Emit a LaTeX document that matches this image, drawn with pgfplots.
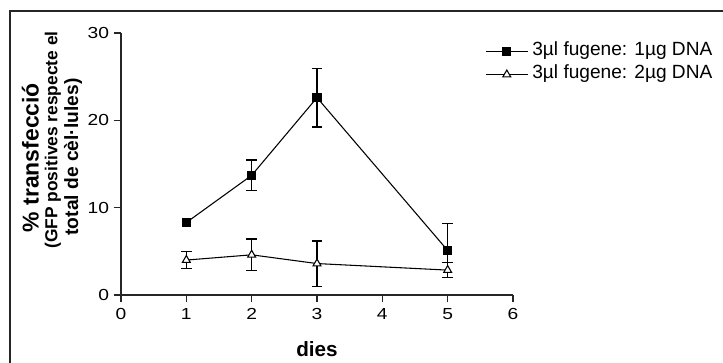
\documentclass[border=0pt]{standalone}
\usepackage{fontspec}
\setmainfont{Liberation Sans}
\newfontfamily\tickfont{Liberation Sans}[FakeStretch=1.2]
\usepackage{graphicx}
\usepackage{pgfplots}
\pgfplotsset{compat=1.18}
\begin{document}
\begin{tikzpicture}
\begin{axis}[
  scale only axis,
  width=294pt, height=196.5pt,
  xmin=0, xmax=6, ymin=0, ymax=30,
  xtick={0,1,2,3,4,5,6}, ytick={0,10,20,30},
  axis x line*=bottom, axis y line*=left,
  axis line style={-, line width=1pt, black!85},
  tick style={line width=1pt, black!85},
  tick align=outside, major tick length=5.5pt,
  xtick pos=bottom, ytick pos=left,
  /pgf/number format/assume math mode=true,
  ticklabel style={font=\tickfont\fontsize{12}{14}\selectfont},
  xticklabel style={yshift=-1pt},
  clip=false,
  legend cell align=left,
  legend style={draw=none, fill=none, inner sep=0pt,
    at={(axis description cs:0.9286,0.9593)}, anchor=north west,
    font=\fontsize{12.5}{14}\selectfont,
    nodes={inner sep=0pt, text height=9pt, text depth=2.5pt},
    row sep=5.75pt,
    /tikz/column 1/.style={column sep=3pt}},
  legend image code/.code={\draw[mark repeat=2,mark phase=2,#1] plot coordinates {(0pt,0pt)(15.75pt,0pt)(31.5pt,0pt)};},
]
% error bars of series 1 (none visible at day 1)
\addplot[draw=none, forget plot,
  error bars/.cd, y dir=both, y explicit,
  error bar style={draw=black, solid, line width=1.1pt},
  error mark options={rotate=90, mark size=4pt, line width=1.1pt, draw=black}]
  table[x=x, y=y, y error=e] {
x y e
2 13.7 1.75
3 22.6 3.35
5 5.1 3.1
};
% error bars of series 2
\addplot[draw=none, forget plot,
  error bars/.cd, y dir=both, y explicit,
  error bar style={draw=black, solid, line width=1.1pt},
  error mark options={rotate=90, mark size=4pt, line width=1.1pt, draw=black}]
  table[x=x, y=y, y error=e] {
x y e
1 4.0 0.98
2 4.6 1.8
3 3.6 2.6
5 2.85 0.85
};
\addplot[black, line width=0.8pt, mark=square*, mark size=3pt,
  mark options={solid, fill=black}]
  table[x=x, y=y] {
x y
1 8.3
2 13.7
3 22.6
5 5.1
};
\addlegendentry{\resizebox{135pt}{!}{3µl fugene: 1µg DNA}}
\addplot[black, line width=0.8pt, mark=triangle*, mark size=3.4pt,
  mark options={solid, fill=white, line width=0.8pt}]
  table[x=x, y=y] {
x y
1 4.0
2 4.6
3 3.6
5 2.85
};
\addlegendentry{\resizebox{135pt}{!}{3µl fugene: 2µg DNA}}
\end{axis}
\node[rotate=90, font=\bfseries\fontsize{15}{17}\selectfont] at (-68pt,103.1pt) {\resizebox{111.75pt}{!}{\% transfecció}};
\node[rotate=90, font=\bfseries\fontsize{12.5}{14}\selectfont] at (-51pt,116.25pt) {\resizebox{162.75pt}{!}{(GFP positives respecte el}};
\node[rotate=90, font=\bfseries\fontsize{12.5}{14}\selectfont] at (-36pt,103.5pt) {\resizebox{117.75pt}{!}{total de cèl·lules)}};
\node[font=\bfseries\fontsize{15.5}{17}\selectfont] at (147pt,-40.5pt) {dies};
\draw[line width=1.1pt, black!85] (-83.25pt,-52pt) -- (-83.25pt,213pt) -- (452pt,213pt);
\pgfresetboundingbox
\path[use as bounding box] (-90.75pt,-51pt) rectangle (451.5pt,221.25pt);
\end{tikzpicture}
\end{document}
